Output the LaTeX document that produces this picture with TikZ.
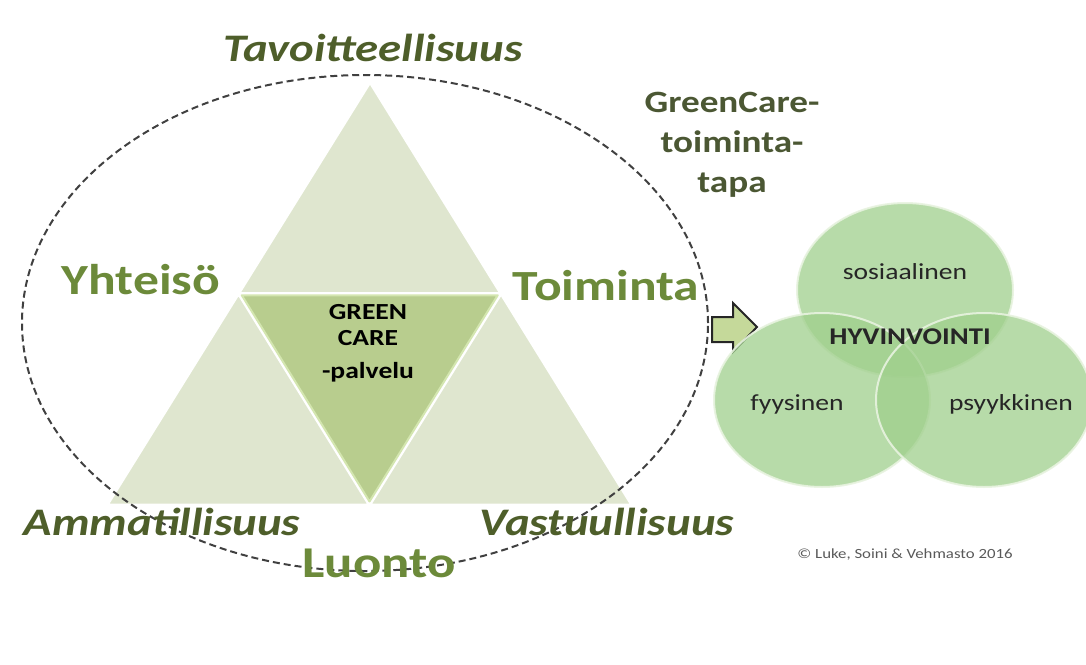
\documentclass[tikz,border=0pt]{standalone}
\usepackage{fontspec}
\setmainfont{Carlito}[FakeStretch=1.2]
\usetikzlibrary{shapes.geometric,calc}
\definecolor{olivedark}{HTML}{4E5E2A}
\definecolor{olivelight}{HTML}{6C8A3A}
\definecolor{gcgray}{HTML}{4B5733}
\definecolor{trilight}{HTML}{DFE6CF}
\definecolor{tricenter}{HTML}{B8CD8E}
\definecolor{tricenterrim}{HTML}{D4E6B0}
\definecolor{circfill}{HTML}{9FCF8C}
\definecolor{circrim}{HTML}{E8F3E0}
\definecolor{arrowfill}{HTML}{C5D99A}
\tikzset{
  outertri/.style={fill=trilight, draw=white, line width=3pt, line join=round},
  centertri/.style={fill=tricenter, draw=tricenterrim, line width=2pt, line join=round},
  biglab/.style={font=\fontsize{43}{43}\selectfont\bfseries, text=olivelight, inner sep=0pt},
  itlab/.style={font=\fontsize{39}{39}\selectfont\bfseries\itshape, text=olivedark, inner sep=0pt},
  circ/.style={ellipse, minimum width=216pt, minimum height=174pt, fill=circfill, fill opacity=0.75, draw=circrim, line width=2pt, draw opacity=0.9},
  circtxt/.style={font=\fontsize{23}{23}\selectfont, text=black!85, inner sep=0pt},
  midtxt/.style={font=\fontsize{23}{23}\selectfont\bfseries, inner sep=0pt},
}
\begin{document}
\begin{tikzpicture}[x=1pt,y=-1pt]
\useasboundingbox (0,0) rectangle (1086,664);
% triangle corners
\coordinate (A) at (370,82);
\coordinate (B) at (107,505);
\coordinate (C) at (632,505);
\coordinate (MAB) at (238.5,293.5);
\coordinate (MAC) at (501,293.5);
\coordinate (MBC) at (369.5,505);
\coordinate (CEN) at (369.7,364);
\draw[outertri] (A) -- (MAB) -- (MAC) -- cycle;
\draw[outertri] (MAB) -- (B) -- (MBC) -- cycle;
\draw[outertri] (MAC) -- (MBC) -- (C) -- cycle;
\draw[centertri] ($(CEN)!0.975!(MAB)$) -- ($(CEN)!0.975!(MAC)$) -- ($(CEN)!0.975!(MBC)$) -- cycle;
% dashed ellipse
\node[ellipse, draw=black!75, line width=2pt, dash pattern=on 7pt off 4pt, minimum width=686pt, minimum height=496pt, inner sep=0pt] (frame) at (365,323) {};
% centre text
\node[midtxt] (green) at (368,312) {GREEN};
\node[midtxt] (care) at (368,338) {CARE};
\node[midtxt] (palv) at (368,372) {-palvelu};
% labels
\node[itlab] (tav) at (373,48) {Tavoitteellisuus};
\node[biglab] (yht) at (141,280) {Yhteisö};
\node[biglab] (toim) at (606,286) {Toiminta};
\node[itlab] (amm) at (162,522) {Ammatillisuus};
\node[itlab] (vast) at (607,522) {Vastuullisuus};
\node[biglab, font=\fontsize{44}{44}\selectfont\bfseries] (luo) at (379,563) {Luonto};
\node[font=\fontsize{31}{40}\selectfont\bfseries, text=gcgray, align=center, inner sep=0pt] (gct) at (732,145) {GreenCare-\\toiminta-\\tapa};
% block arrow
\draw[fill=arrowfill, draw=black!85, line width=2pt, line join=miter]
  (712,317) -- (733,317) -- (733,303) -- (757,327) -- (733,352) -- (733,342) -- (712,342) -- cycle;
% circles
\node[circ] (soc) at (905,290) {};
\node[circ] (fyy) at (822,400) {};
\node[circ] (psy) at (984,400) {};
\node[circtxt] (soct) at (905,272) {sosiaalinen};
\node[circtxt, font=\fontsize{24}{24}\selectfont\bfseries] (hyv) at (910,337) {HYVINVOINTI};
\node[circtxt] (fyyt) at (797,404) {fyysinen};
\node[circtxt] (psyt) at (1011,404) {psyykkinen};
\node[font=\fontsize{14}{14}\selectfont, text=black!65, inner sep=0pt] (copy) at (905,555) {© Luke, Soini \& Vehmasto 2016};
\end{tikzpicture}
\end{document}
